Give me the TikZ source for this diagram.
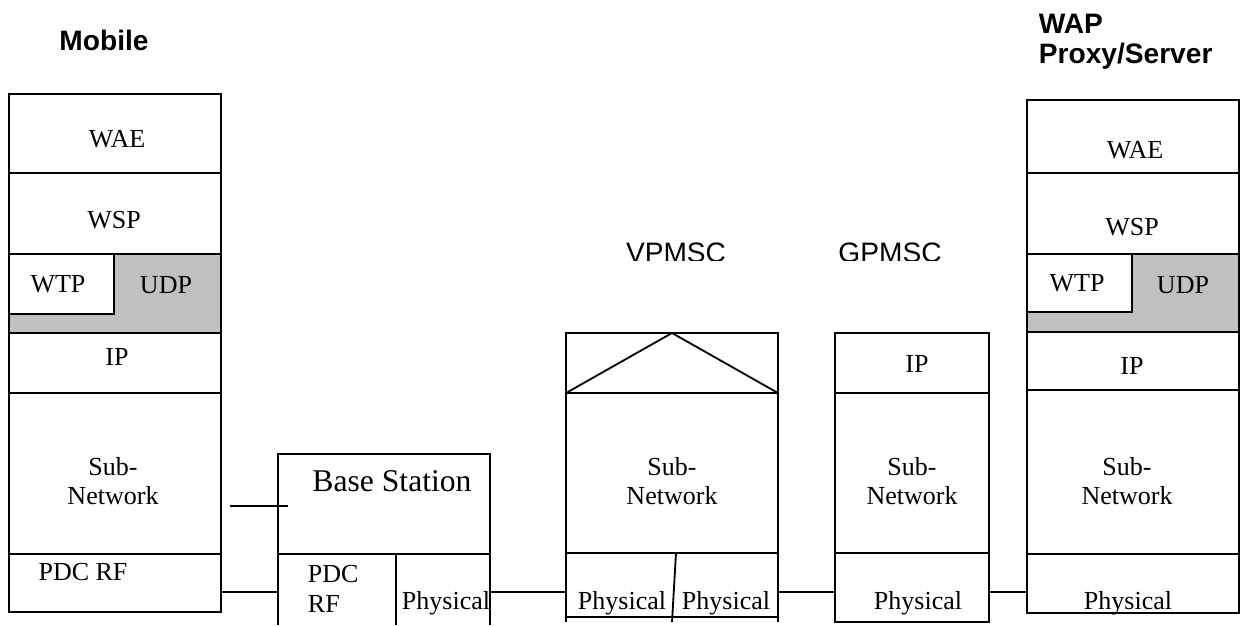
\documentclass[tikz,border=0pt]{standalone}
\usepackage{fontspec}
\setmainfont{Liberation Serif}
\newfontfamily\labelfont{Liberation Sans}
\usepackage{tikz}
\definecolor{udpgrey}{RGB}{192,192,192}

\tikzset{
  layer/.style={font=\fontsize{18.5}{21}\selectfont, align=center, inner sep=0pt},
  bigname/.style={font=\fontsize{22.5}{26}\selectfont, inner sep=0pt},
  title/.style={font=\labelfont\bfseries\fontsize{20}{21}\selectfont, align=left, inner sep=0pt},
  hostname/.style={font=\labelfont\fontsize{20}{22}\selectfont, inner sep=0pt}
}

\begin{document}
\begin{tikzpicture}[x=0.025cm, y=-0.025cm, line width=1.3pt]
\useasboundingbox (0,0) rectangle (1241,625);
%%% Draws mobile stack
% draws layers
\fill[udpgrey] (9,254) rectangle (221,333);
\draw (9,94) rectangle (221,612);
\draw (9,173) to (221,173);
\draw (9,254) to (221,254);
\draw (9,333) to (221,333);
\draw (9,393) to (221,393);
\draw (9,554) to (221,554);
\draw[fill=white] (9,254) rectangle (114,314);
% labels layers
\node[title] (mobile) at (104,40) {Mobile};
\node[layer] (mwae) at (117,139) {WAE};
\node[layer] (mwsp) at (114,220) {WSP};
\node[layer] (mwtp) at (58,284) {WTP};
\node[layer] (mudp) at (166,285) {UDP};
\node[layer] (mip) at (117,357) {IP};
\node[layer] (msub) at (113,481) {Sub-\\Network};
\node[layer] (mrf) at (83,572) {PDC RF};
\coordinate (mobR) at (221,592);
%%% Draws base station
% draws layers
\draw (278,625) to (278,454) to (490,454) to (490,625);
\draw (278,554) to (490,554);
\draw (396,554) to (396,625);
\coordinate (bsL) at (278,592);
\coordinate (bsR) at (490,592);
\coordinate (bsA) at (230,506);
\coordinate (bsB) at (288,506);
% labels layers
\node[bigname] (base) at (392,481) {Base Station};
\node[layer, align=left, anchor=west] (bsrf) at (307,589) {PDC\\RF};
\node[layer] (bsphy) at (446,603) {Physical};
%%% Draws VPMSC
% draws layers
\draw (566,622) to (566,333) to (778,333) to (778,622);
\draw (566,393) to (778,393);
\draw (566,553) to (778,553);
\draw (566,617) to (778,617);
\draw (566,393) to (672,333) to (778,393);
\draw (676,553) to (672,622);
\coordinate (vpL) at (566,592);
\coordinate (vpR) at (778,592);
% labels layers
\begin{scope}
\clip (540,230) rectangle (1000,260);
\node[hostname] (vpmsc) at (676,253) {VPMSC};
\node[hostname] (gpmsc) at (890,253) {GPMSC};
\end{scope}
\node[layer] (vsub) at (672,481) {Sub-\\Network};
\node[layer] (vphya) at (622,603) {Physical};
\node[layer] (vphyb) at (726,603) {Physical};
%%% Draws GPMSC
% draws layers
\draw (835,333) rectangle (989,622);
\draw (835,393) to (989,393);
\draw (835,553) to (989,553);
\coordinate (gpL) at (835,592);
\coordinate (gpR) at (989,592);
% labels layers
\node[layer] (gip) at (917,364) {IP};
\node[layer] (gsub) at (912,481) {Sub-\\Network};
\node[layer] (gphy) at (918,603) {Physical};
%%% Draws WAP proxy/server stack
% draws layers
\fill[udpgrey] (1027,254) rectangle (1239,332);
\draw (1027,100) rectangle (1239,613);
\draw (1027,173) to (1239,173);
\draw (1027,254) to (1239,254);
\draw[line width=1.8pt] (1027,332) to (1239,332);
\draw (1027,390) to (1239,390);
\draw (1027,554) to (1239,554);
\draw[fill=white] (1027,254) rectangle (1132,312);
\coordinate (wapL) at (1027,592);
% labels layers
\node[title, anchor=west] (wap) at (1038,42) {WAP\\Proxy/Server};
\node[layer] (wwae) at (1135,150) {WAE};
\node[layer] (wwsp) at (1132,227) {WSP};
\node[layer] (wwtp) at (1077,283) {WTP};
\node[layer] (wudp) at (1183,285) {UDP};
\node[layer] (wip) at (1132,366) {IP};
\node[layer] (wsub) at (1127,481) {Sub-\\Network};
\node[layer] (wphy) at (1128,603) {Physical};
%%% Draws links
\draw (mobR) to (bsL);
\draw (bsA) to (bsB);
\draw (bsR) to (vpL);
\draw (vpR) to (gpL);
\draw (gpR) to (wapL);
\end{tikzpicture}
\end{document}
